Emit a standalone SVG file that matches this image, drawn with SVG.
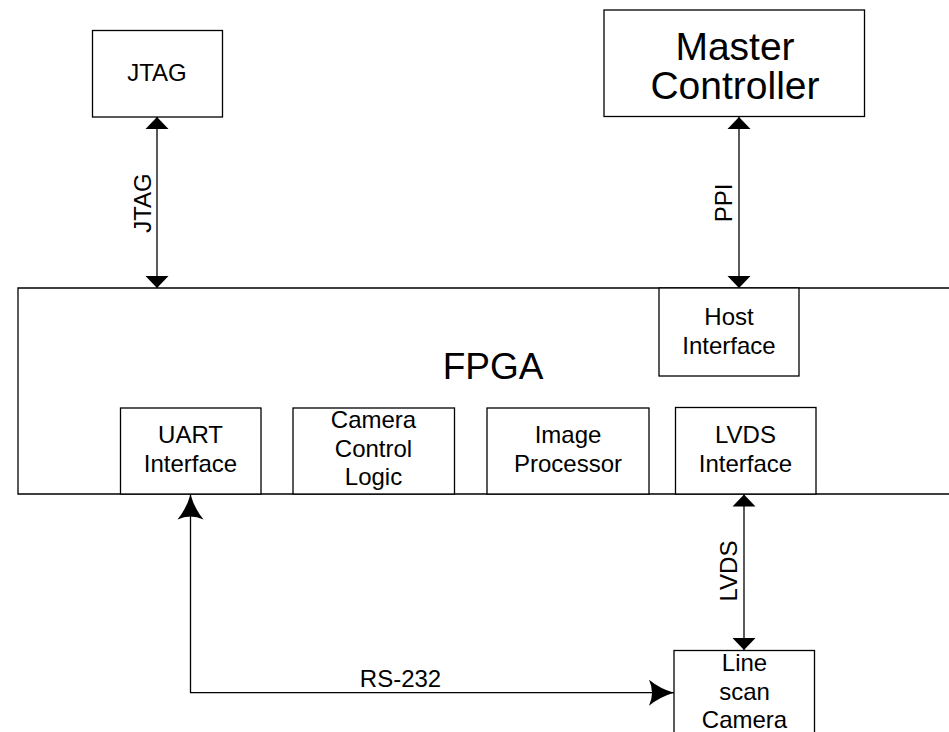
<svg xmlns="http://www.w3.org/2000/svg" width="949" height="732" viewBox="0 0 949 732">
<style>
.box{fill:#fff;stroke:#000;stroke-width:1.3}
.ln{fill:none;stroke:#000;stroke-width:1.3}
text{font-family:"Liberation Sans",Arial,sans-serif;font-size:24px;fill:#000;text-anchor:middle}
.big{font-size:38px}
</style>
<defs>
<marker id="tri" markerUnits="userSpaceOnUse" viewBox="0 -12 12 24" refX="12" refY="0" markerWidth="12" markerHeight="24" orient="auto-start-reverse">
<path d="M12,0 L0,-11.5 L0,11.5 Z" fill="#000"/>
</marker>
<marker id="swept" markerUnits="userSpaceOnUse" viewBox="0 -14 26 28" refX="25" refY="0" markerWidth="26" markerHeight="28" orient="auto-start-reverse">
<path d="M25,0 Q11,-4 0,-13 Q6,0 0,13 Q11,4 25,0 Z" fill="#000"/>
</marker>
</defs>

<g id="fpga">
<path d="M949,288 H18 V494 H949" fill="#fff" stroke="#000" stroke-width="1.3"/>
<text class="big" x="493" y="379" style="font-size:37px">FPGA</text>
</g>

<g id="host-interface">
<rect class="box" x="659" y="288" width="140" height="88"/>
<text x="729" y="325">Host</text>
<text x="729" y="353.5">Interface</text>
</g>

<g id="uart-interface">
<rect class="box" x="120.5" y="408" width="140.5" height="86"/>
<text x="190.5" y="443">UART</text>
<text x="190.5" y="472">Interface</text>
</g>

<g id="camera-control-logic">
<rect class="box" x="293" y="408" width="161.5" height="86"/>
<text x="373.5" y="428">Camera</text>
<text x="373.5" y="456.5">Control</text>
<text x="373.5" y="485">Logic</text>
</g>

<g id="image-processor">
<rect class="box" x="487" y="408" width="162" height="86"/>
<text x="568" y="443">Image</text>
<text x="568" y="472">Processor</text>
</g>

<g id="lvds-interface">
<rect class="box" x="675.5" y="407.5" width="140.5" height="86.5"/>
<text x="745.5" y="443">LVDS</text>
<text x="745.5" y="472">Interface</text>
</g>

<g id="jtag">
<rect class="box" x="92.5" y="30.5" width="130" height="86.5"/>
<text x="157" y="81">JTAG</text>
</g>

<g id="master-controller">
<rect class="box" x="604" y="10" width="260.5" height="106.5"/>
<text class="big" x="735" y="59.5" style="font-size:39px">Master</text>
<text class="big" x="735" y="98.5" style="font-size:39px">Controller</text>
</g>

<g id="line-scan-camera">
<rect class="box" x="674" y="650.5" width="140.5" height="90"/>
<text x="744.5" y="671">Line</text>
<text x="744.5" y="699.5">scan</text>
<text x="744.5" y="728">Camera</text>
</g>

<g id="connectors">
<path class="ln" d="M157,117 V288" marker-start="url(#tri)" marker-end="url(#tri)"/>
<text transform="translate(150.5,203) rotate(-90)">JTAG</text>
<path class="ln" d="M739,117 V288" marker-start="url(#tri)" marker-end="url(#tri)"/>
<text transform="translate(731.5,203) rotate(-90)">PPI</text>
<path class="ln" d="M744,494.5 V650" marker-start="url(#tri)" marker-end="url(#tri)"/>
<text transform="translate(736.5,571) rotate(-90)">LVDS</text>
<path class="ln" d="M190.5,494.5 V692.7 H674" marker-start="url(#swept)" marker-end="url(#swept)"/>
<text x="400.5" y="686.5">RS-232</text>
</g>
</svg>
